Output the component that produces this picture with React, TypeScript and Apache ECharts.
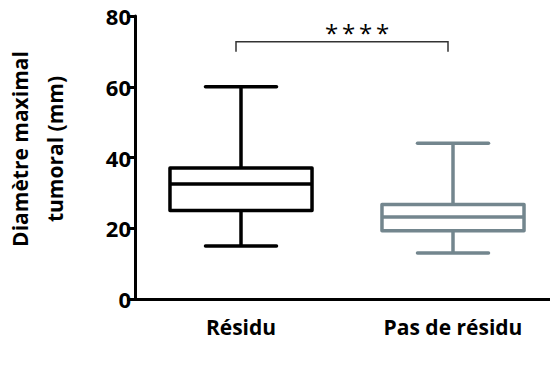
import React, { useEffect, useRef } from "react";
import * as echarts from "echarts";

const categories = ["Résidu", "Pas de résidu"];
// [min, Q1, median, Q3, max]
const boxValues = [
  [15, 25, 32.5, 37, 60],
  [13, 19.3, 23.2, 26.7, 44],
];
const boxColors = ["#000000", "#73868e"];
const yTicks = { min: 0, max: 80, interval: 20 };
const bracketLevel = 72.7;
const bracketFoot = 69.9;
const significance = ["*", "*", "*", "*"];
const yTitle = ["Diamètre maximal", "tumoral (mm)"];

const FONT = "'Open Sans', sans-serif";

export default function App() {
  const ref = useRef<HTMLDivElement>(null);
  useEffect(() => {
    if (!ref.current) return;
    const chart = echarts.init(ref.current, undefined, { renderer: "svg" });
    chart.setOption({
      animation: false,
      grid: { left: 135, top: 16, right: 11, bottom: 91, containLabel: false },
      xAxis: {
        type: "category",
        data: categories,
        boundaryGap: true,
        axisLine: { lineStyle: { color: "#000", width: 3 } },
        axisTick: { alignWithLabel: true, length: 9, lineStyle: { color: "#000", width: 3 } },
        axisLabel: { color: "#000", fontSize: 21, fontWeight: "bold", fontFamily: FONT, margin: 17 },
      },
      yAxis: {
        type: "value",
        min: yTicks.min,
        max: yTicks.max,
        interval: yTicks.interval,
        splitLine: { show: false },
        axisLine: { show: true, lineStyle: { color: "#000", width: 3 } },
        axisTick: { show: true, length: 8, lineStyle: { color: "#000", width: 3 } },
        axisLabel: { color: "#000", fontSize: 22, fontWeight: "bold", fontFamily: FONT, margin: 4 },
      },
      graphic: [
        {
          type: "text",
          x: 37,
          y: 149,
          rotation: Math.PI / 2,
          style: {
            text: yTitle.join("\n"),
            fontSize: 21,
            fontWeight: "bold",
            fontFamily: FONT,
            fill: "#000",
            align: "center",
            verticalAlign: "middle",
            lineHeight: 35,
          },
        },
      ],
      series: [
        {
          type: "custom",
          data: boxValues.map((v, i) => [i, ...v]),
          renderItem: (params: any, api: any) => {
            const idx = api.value(0);
            const band = api.size([1, 0])[0];
            const half = band * 0.335;
            const capHalf = half / 2;
            const pMin = api.coord([idx, api.value(1)]);
            const pQ1 = api.coord([idx, api.value(2)]);
            const pMed = api.coord([idx, api.value(3)]);
            const pQ3 = api.coord([idx, api.value(4)]);
            const pMax = api.coord([idx, api.value(5)]);
            const cx = pMed[0];
            const color = boxColors[params.dataIndex];
            const ls = { stroke: color, lineWidth: 3.5, lineCap: "round", fill: "none" };
            return {
              type: "group",
              children: [
                { type: "line", shape: { x1: cx, y1: pMax[1], x2: cx, y2: pQ3[1] }, style: { ...ls, lineCap: "butt" } },
                { type: "line", shape: { x1: cx, y1: pQ1[1], x2: cx, y2: pMin[1] }, style: { ...ls, lineCap: "butt" } },
                { type: "line", shape: { x1: cx - capHalf, y1: pMax[1], x2: cx + capHalf, y2: pMax[1] }, style: ls },
                { type: "line", shape: { x1: cx - capHalf, y1: pMin[1], x2: cx + capHalf, y2: pMin[1] }, style: ls },
                {
                  type: "rect",
                  shape: { x: cx - half, y: pQ3[1], width: half * 2, height: pQ1[1] - pQ3[1] },
                  style: { stroke: color, lineWidth: 3.5, fill: "#fff", lineJoin: "round" },
                },
                { type: "line", shape: { x1: cx - half, y1: pMed[1], x2: cx + half, y2: pMed[1] }, style: { ...ls, lineCap: "butt" } },
              ],
            };
          },
        },
        {
          type: "custom",
          data: [[0, 1]],
          renderItem: (params: any, api: any) => {
            const p0 = api.coord([0, bracketLevel]);
            const p1 = api.coord([1, bracketLevel]);
            const f0 = api.coord([0, bracketFoot]);
            const x0 = p0[0] - 5;
            const x1 = p1[0] - 5;
            const mid = (x0 + x1) / 2 + 15;
            const pitch = 17;
            return {
              type: "group",
              children: [
                {
                  type: "polyline",
                  shape: { points: [[x0, f0[1]], [x0, p0[1]], [x1, p1[1]], [x1, f0[1]]] },
                  style: { stroke: "#333", lineWidth: 1.5, fill: "none" },
                },
                ...significance.map((s, k) => ({
                  type: "text",
                  x: mid + (k - (significance.length - 1) / 2) * pitch,
                  y: p0[1] - 9,
                  style: {
                    text: s,
                    fontSize: 24,
                    fontFamily: FONT,
                    fill: "#000",
                    align: "center",
                    verticalAlign: "middle",
                  },
                })),
              ],
            };
          },
        },
      ],
    });
    return () => chart.dispose();
  }, []);
  return (
    <div style={{ width: 550, height: 390, position: "absolute", left: 0, top: 0, overflow: "hidden" }}>
      <div ref={ref} style={{ width: 570, height: 390 }} />
    </div>
  );
}
